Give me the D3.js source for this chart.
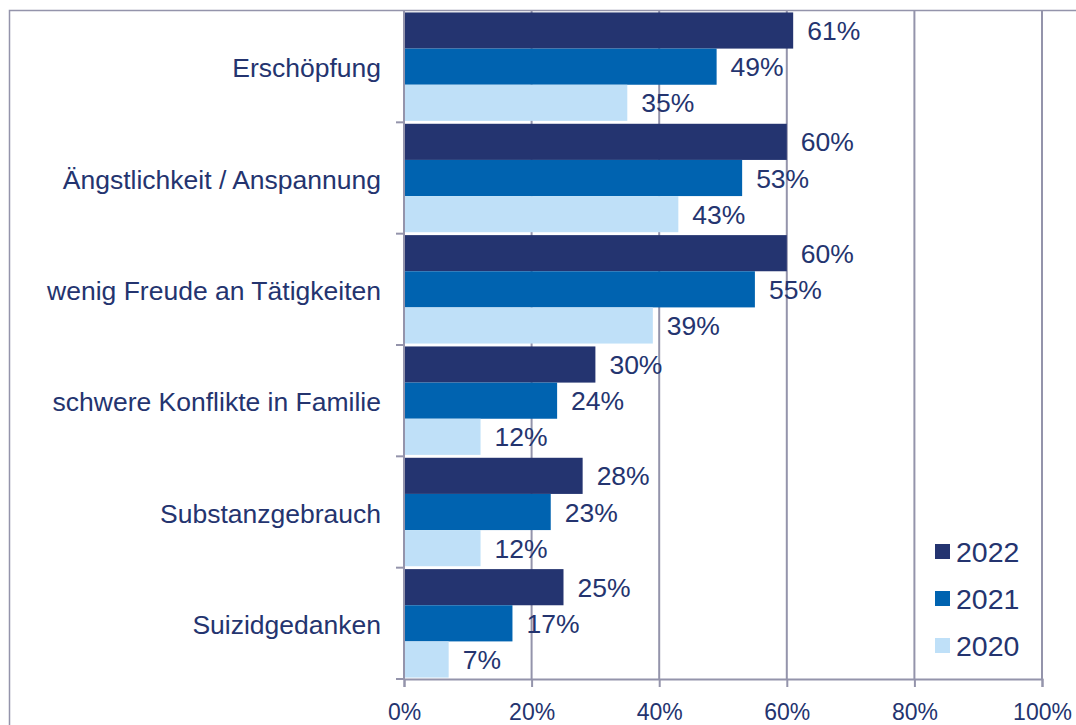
<!DOCTYPE html>
<html>
<head>
<meta charset="utf-8">
<script src="https://cdn.jsdelivr.net/npm/d3@7"></script>
<style>
  body { margin: 0; background: #fff; }
  svg text { font-family: "Liberation Sans", Arial, sans-serif; fill: #24346f; }
</style>
</head>
<body>
<div id="chart"></div>
<script>
// data
var categories = ["Erschöpfung", "Ängstlichkeit / Anspannung", "wenig Freude an Tätigkeiten",
  "schwere Konflikte in Familie", "Substanzgebrauch", "Suizidgedanken"];
var years = ["2022", "2021", "2020"];
var values2022 = [61, 60, 60, 30, 28, 25];
var values2021 = [49, 53, 55, 24, 23, 17];
var values2020 = [35, 43, 39, 12, 12, 7];
var xTicks = [0, 20, 40, 60, 80, 100];

var colors = { "2022": "#243470", "2021": "#0063b0", "2020": "#bfe0f8" };
var gridColor = "#9494ab";

var width = 1076, height = 725;
var plot = { left: 404, right: 1042, top: 11, bottom: 679 };

var svg = d3.select("#chart").append("svg")
  .attr("width", width)
  .attr("height", height);

// bingkai luar
svg.append("rect")
  .attr("x", 9.5).attr("y", 10.5)
  .attr("width", 1200).attr("height", 900)
  .attr("fill", "none")
  .attr("stroke", gridColor)
  .attr("stroke-width", 1.5);

var x = d3.scaleLinear().domain([0, 100]).range([plot.left, plot.right]);
var y = d3.scaleBand().domain(categories).range([plot.top, plot.bottom]).paddingInner(0).paddingOuter(0);
var ySub = d3.scaleBand().domain(years).range([0, y.bandwidth()]).paddingOuter(0.04);

// gridlines vertikal
svg.append("g").selectAll("line")
  .data(xTicks.filter(function (d) { return d > 0; }))
  .enter().append("line")
  .attr("x1", function (d) { return x(d); })
  .attr("x2", function (d) { return x(d); })
  .attr("y1", plot.top)
  .attr("y2", plot.bottom)
  .attr("stroke", gridColor)
  .attr("stroke-width", 2);

// bars
var series = [
  { year: "2022", values: values2022 },
  { year: "2021", values: values2021 },
  { year: "2020", values: values2020 }
];

var rows = [];
series.forEach(function (s) {
  s.values.forEach(function (v, i) {
    rows.push({ year: s.year, category: categories[i], value: v });
  });
});

svg.append("g").selectAll("rect")
  .data(rows)
  .enter().append("rect")
  .attr("x", x(0))
  .attr("y", function (d) { return y(d.category) + ySub(d.year); })
  .attr("width", function (d) { return x(d.value) - x(0); })
  .attr("height", ySub.bandwidth())
  .attr("fill", function (d) { return colors[d.year]; });

// label nilai
svg.append("g").selectAll("text")
  .data(rows)
  .enter().append("text")
  .attr("x", function (d) { return x(d.value) + 14; })
  .attr("y", function (d) { return y(d.category) + ySub(d.year) + ySub.bandwidth() / 2; })
  .attr("dy", "0.36em")
  .style("font-size", "26.5px")
  .text(function (d) { return d.value + "%"; });

// sumbu kiri
svg.append("line")
  .attr("x1", plot.left).attr("x2", plot.left)
  .attr("y1", plot.top).attr("y2", plot.bottom)
  .attr("stroke", gridColor).attr("stroke-width", 2);

var boundaries = categories.map(function (c) { return y(c) + y.bandwidth(); });
svg.append("g").selectAll("line")
  .data(boundaries)
  .enter().append("line")
  .attr("x1", plot.left - 8).attr("x2", plot.left)
  .attr("y1", function (d) { return d; })
  .attr("y2", function (d) { return d; })
  .attr("stroke", gridColor).attr("stroke-width", 2);

svg.append("g").selectAll("text")
  .data(categories)
  .enter().append("text")
  .attr("x", plot.left - 23)
  .attr("y", function (d) { return y(d) + y.bandwidth() / 2 + 1; })
  .attr("dy", "0.36em")
  .attr("text-anchor", "end")
  .style("font-size", "26.5px")
  .text(function (d) { return d; });

// sumbu bawah
var xAxis = d3.axisBottom(x)
  .tickValues(xTicks)
  .tickSize(8)
  .tickPadding(17)
  .tickFormat(function (d) { return d + "%"; });

var gx = svg.append("g")
  .attr("transform", "translate(0," + plot.bottom + ")")
  .call(xAxis);
gx.select(".domain").attr("stroke", gridColor).attr("stroke-width", 2);
gx.selectAll(".tick line").attr("stroke", gridColor).attr("stroke-width", 2);
gx.selectAll(".tick text")
  .style("font-size", "23px")
  .style("font-family", "'Liberation Sans', Arial, sans-serif")
  .attr("fill", "#24346f");

// legend
var legend = svg.append("g").attr("transform", "translate(935,544)");
var items = legend.selectAll("g")
  .data(years)
  .enter().append("g")
  .attr("transform", function (d, i) { return "translate(0," + (i * 47) + ")"; });
items.append("rect")
  .attr("width", 15).attr("height", 15)
  .attr("fill", function (d) { return colors[d]; });
items.append("text")
  .attr("x", 21).attr("y", 8)
  .attr("dy", "0.36em")
  .style("font-size", "28.5px")
  .text(function (d) { return d; });
</script>
</body>
</html>
